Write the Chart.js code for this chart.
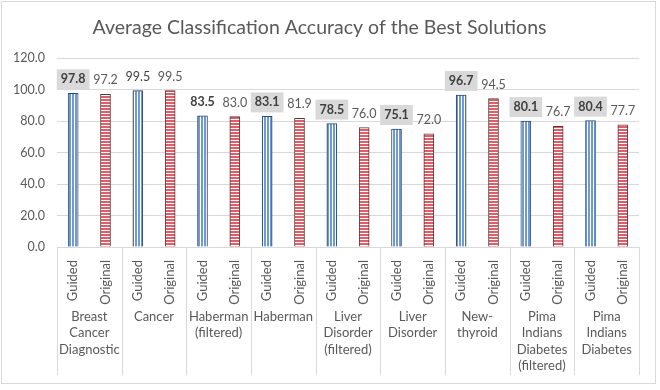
<!DOCTYPE html>
<html>
<head>
<meta charset="utf-8">
<script src="https://cdn.jsdelivr.net/npm/chart.js@4.4.1/dist/chart.umd.min.js"></script>
<style>
  html, body { margin: 0; padding: 0; background: #fff; }
  #wrap { width: 660px; height: 390px; }
</style>
</head>
<body>
<div id="wrap"><canvas id="accChart" width="660" height="390"></canvas></div>
<script>
// datasets in the chart
const groups = [
  ['Breast', 'Cancer', 'Diagnostic'],
  ['Cancer'],
  ['Haberman', '(filtered)'],
  ['Haberman'],
  ['Liver', 'Disorder', '(filtered)'],
  ['Liver', 'Disorder'],
  ['New-', 'thyroid'],
  ['Pima', 'Indians', 'Diabetes', '(filtered)'],
  ['Pima', 'Indians', 'Diabetes']
];
const methods = ['Guided', 'Original'];

const guided   = [97.8, 99.5, 83.5, 83.1, 78.5, 75.1, 96.7, 80.1, 80.4];
const original = [97.2, 99.5, 83.0, 81.9, 76.0, 72.0, 94.5, 76.7, 77.7];
// which guided label is bold / boxed
const guidedBold = [true, false, true, true, true, true, true, true, true];
const guidedBox  = [true, false, false, true, true, true, true, true, true];

const yTicks = [0, 20, 40, 60, 80, 100, 120];

const FONT = 'Lato, "Open Sans", sans-serif';

// build 18 sub categories
const labels = [];
const guidedData = [];
const originalData = [];
groups.forEach((g, i) => {
  labels.push(methods[0], methods[1]);
  guidedData.push(guided[i], null);
  originalData.push(null, original[i]);
});

function makePattern(kind) {
  const c = document.createElement('canvas');
  c.width = 3; c.height = 3;
  const g = c.getContext('2d');
  g.fillStyle = '#ffffff';
  g.fillRect(0, 0, 3, 3);
  if (kind === 'v') {
    g.fillStyle = '#6f9ad2';
    g.fillRect(0, 0, 2, 3);
  } else {
    g.fillStyle = '#dd5f69';
    g.fillRect(0, 0, 3, 2);
  }
  return document.getElementById('accChart').getContext('2d').createPattern(c, 'repeat');
}

const frame = {
  id: 'frame',
  beforeDraw(chart) {
    const ctx = chart.ctx;
    ctx.save();
    ctx.fillStyle = '#ffffff';
    ctx.fillRect(0, 0, chart.width, chart.height);
    ctx.strokeStyle = '#d9d9d9';
    ctx.lineWidth = 1;
    ctx.strokeRect(1.5, 1.5, 654, 382);
    ctx.restore();
  }
};

const groupAxis = {
  id: 'groupAxis',
  afterDraw(chart) {
    const ctx = chart.ctx;
    const xs = chart.scales.x;
    const area = chart.chartArea;
    const step = (xs.right - xs.left) / groups.length;
    ctx.save();
    ctx.strokeStyle = '#d9d9d9';
    ctx.lineWidth = 1;
    for (let i = 0; i <= groups.length; i++) {
      const x = Math.round(xs.left + i * step) + 0.5;
      ctx.beginPath();
      ctx.moveTo(x, area.bottom);
      ctx.lineTo(x, 375);
      ctx.stroke();
    }
    ctx.fillStyle = '#595959';
    ctx.font = '13px ' + FONT;
    ctx.textAlign = 'center';
    ctx.textBaseline = 'middle';
    groups.forEach((g, i) => {
      const cx = (xs.getPixelForValue(2 * i) + xs.getPixelForValue(2 * i + 1)) / 2;
      g.forEach((line, j) => ctx.fillText(line, cx, 317 + j * 16.3));
    });
    ctx.restore();
  }
};

const valueLabels = {
  id: 'valueLabels',
  afterDatasetsDraw(chart) {
    const ctx = chart.ctx;
    ctx.save();
    ctx.textAlign = 'center';
    ctx.textBaseline = 'middle';
    chart.data.datasets.forEach((ds, di) => {
      const meta = chart.getDatasetMeta(di);
      meta.data.forEach((bar, k) => {
        const v = ds.data[k];
        if (v == null) return;
        const gi = Math.floor(k / 2);
        const txt = v.toFixed(1);
        const y = bar.y - 14;
        if (di === 0) {
          ctx.font = (guidedBold[gi] ? 'bold ' : '') + '12.5px ' + FONT;
          if (guidedBox[gi]) {
            const w = ctx.measureText(txt).width + 8;
            ctx.fillStyle = '#d9d9d9';
            ctx.fillRect(bar.x - w / 2, y - 10, w, 20);
          }
          ctx.fillStyle = '#404040';
        } else {
          ctx.font = '12.5px ' + FONT;
          ctx.fillStyle = '#595959';
        }
        ctx.fillText(txt, bar.x, y);
      });
    });
    ctx.restore();
  }
};

new Chart(document.getElementById('accChart'), {
  type: 'bar',
  data: {
    labels: labels,
    datasets: [{
      label: 'Guided',
      data: guidedData,
      backgroundColor: makePattern('v'),
      borderColor: '#2d4a78',
      borderWidth: 1,
      borderSkipped: 'bottom',
      barThickness: 10,
      grouped: false
    }, {
      label: 'Original',
      data: originalData,
      backgroundColor: makePattern('h'),
      borderColor: '#5e3535',
      borderWidth: 1,
      borderSkipped: 'bottom',
      barThickness: 10,
      grouped: false
    }]
  },
  options: {
    responsive: false,
    animation: false,
    layout: { padding: { left: 0, right: 21, top: 0, bottom: 13 } },
    plugins: {
      legend: { display: false },
      tooltip: { enabled: false },
      title: {
        display: true,
        text: 'Average Classification Accuracy of the Best Solutions',
        color: '#595959',
        font: { family: FONT, size: 19.5, weight: 'normal' },
        padding: { top: 16, bottom: 19 }
      }
    },
    scales: {
      x: {
        grid: { display: false },
        border: { color: '#d9d9d9' },
        ticks: {
          color: '#595959',
          font: { family: FONT, size: 13 },
          minRotation: 90,
          maxRotation: 90,
          padding: 5,
          autoSkip: false
        },
        afterFit(scale) { scale.height = 130; }
      },
      y: {
        min: 0,
        max: 120,
        afterBuildTicks(scale) { scale.ticks = yTicks.map(v => ({ value: v })); },
        grid: { color: '#d9d9d9', drawTicks: false },
        border: { display: false },
        ticks: {
          color: '#595959',
          font: { family: FONT, size: 12.5 },
          padding: 12,
          callback: v => v.toFixed(1)
        },
        afterFit(scale) { scale.width = 57; }
      }
    }
  },
  plugins: [frame, groupAxis, valueLabels]
});
</script>
</body>
</html>
